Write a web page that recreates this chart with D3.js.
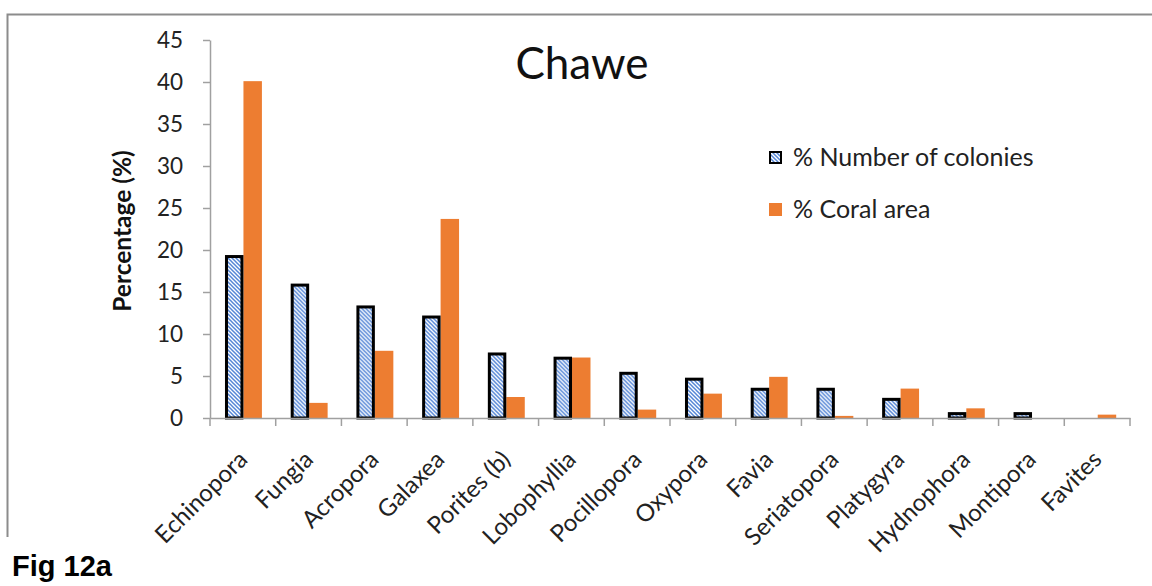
<!DOCTYPE html>
<html>
<head>
<meta charset="utf-8">
<script src="https://cdn.jsdelivr.net/npm/d3@7"></script>
<style>
  html, body { margin: 0; padding: 0; background: #fff; }
  svg { display: block; }
</style>
</head>
<body>
<svg id="chart" width="1152" height="586"></svg>
<script>
// Coral genera surveyed at Chawe
const genera = ["Echinopora", "Fungia", "Acropora", "Galaxea", "Porites (b)", "Lobophyllia",
  "Pocillopora", "Oxypora", "Favia", "Seriatopora", "Platygyra", "Hydnophora", "Montipora", "Favites"];

// % of colonies per genus
const colonies = [19.4, 16.0, 13.4, 12.2, 7.8, 7.3, 5.5, 4.8, 3.6, 3.6, 2.4, 0.7, 0.7, 0];

// % of coral area per genus
const coralArea = [40.1, 1.8, 8.0, 23.7, 2.5, 7.2, 1.0, 2.9, 4.9, 0.25, 3.5, 1.15, 0, 0.4];

const seriesNames = ["% Number of colonies", "% Coral area"];
const yTicks = [0, 5, 10, 15, 20, 25, 30, 35, 40, 45];

const svg = d3.select("#chart");
const FONT = "Lato, 'Open Sans', sans-serif";
const ORANGE = "#ED7D31";
const HATCH_BLUE = "#5586D6";

// diagonal stripe fill for the colony bars
const defs = svg.append("defs");
const pat = defs.append("pattern")
  .attr("id", "hatch")
  .attr("patternUnits", "userSpaceOnUse")
  .attr("width", 4).attr("height", 4);
pat.append("rect").attr("width", 4).attr("height", 4).attr("fill", "#fff");
pat.append("path")
  .attr("d", "M-1,-1 L5,5 M-1,3 L1,5 M3,-1 L5,1")
  .attr("stroke", HATCH_BLUE).attr("stroke-width", 1.5);

// outer frame (top and left edges)
svg.append("path")
  .attr("d", "M7.5,537 L7.5,14.5 L1152,14.5")
  .attr("fill", "none").attr("stroke", "#8c8c8c").attr("stroke-width", 2);

const plotLeft = 210, plotRight = 1130, plotTop = 40, plotBottom = 418;

const x = d3.scaleBand().domain(genera).range([plotLeft, plotRight]).padding(0);
const xs = d3.scaleBand().domain(seriesNames)
  .range([x.bandwidth() * 0.228, x.bandwidth() * 0.79]).padding(0);
const y = d3.scaleLinear().domain([0, 45]).range([plotBottom, plotTop]);

// bars
const rows = genera.map((g, i) => ({ genus: g, values: [colonies[i], coralArea[i]] }));
const groups = svg.append("g").selectAll("g").data(rows).join("g")
  .attr("transform", d => `translate(${x(d.genus)},0)`);

groups.append("rect")
  .attr("x", xs(seriesNames[1]))
  .attr("width", xs.bandwidth())
  .attr("y", d => y(d.values[1]))
  .attr("height", d => y(0) - y(d.values[1]))
  .attr("fill", ORANGE);

groups.filter(d => d.values[0] > 0).append("rect")
  .attr("x", xs(seriesNames[0]) + 1.5)
  .attr("width", xs.bandwidth() - 3)
  .attr("y", d => y(d.values[0]) + 1.5)
  .attr("height", d => y(0) - y(d.values[0]) - 1.5)
  .attr("fill", "url(#hatch)")
  .attr("stroke", "#000").attr("stroke-width", 3);

// y axis
const yAxis = svg.append("g")
  .attr("transform", `translate(${plotLeft},0)`)
  .call(d3.axisLeft(y).tickValues(yTicks).tickSize(7).tickPadding(20).tickSizeOuter(0));
yAxis.select(".domain").attr("stroke", "#a0a0a0").attr("stroke-width", 1.5);
yAxis.selectAll(".tick line").attr("stroke", "#a0a0a0").attr("stroke-width", 1.5);
yAxis.selectAll(".tick text")
  .attr("font-family", FONT).attr("font-size", 22.5).attr("fill", "#222");

// x axis
const xAxis = svg.append("g")
  .attr("transform", `translate(0,${plotBottom})`)
  .call(d3.axisBottom(x).tickSize(0).tickSizeOuter(0).tickFormat(""));
xAxis.select(".domain").attr("stroke", "#a0a0a0").attr("stroke-width", 1.5);
// category separators
const bounds = genera.map(g => x(g)).concat([plotRight]);
svg.append("g").selectAll("line").data(bounds).join("line")
  .attr("x1", d => d).attr("x2", d => d)
  .attr("y1", plotBottom).attr("y2", plotBottom + 8)
  .attr("stroke", "#a0a0a0").attr("stroke-width", 1.5);

// rotated category labels
svg.append("g").selectAll("text").data(genera).join("text")
  .attr("transform", d => `translate(${x(d) + x.bandwidth() / 2 + 6},${plotBottom + 43}) rotate(-45)`)
  .attr("text-anchor", "end")
  .attr("font-family", FONT).attr("font-size", 24).attr("fill", "#222")
  .text(d => d);

// axis title
svg.append("text")
  .attr("transform", `translate(131,231) rotate(-90)`)
  .attr("text-anchor", "middle")
  .attr("font-family", FONT).attr("font-weight", "bold").attr("font-size", 24.5).attr("fill", "#111")
  .text("Percentage (%)");

// chart title
svg.append("text")
  .attr("x", 582).attr("y", 79)
  .attr("text-anchor", "middle")
  .attr("font-family", FONT).attr("font-size", 44).attr("fill", "#111")
  .text("Chawe");

// legend
const legend = svg.append("g");
const legendRows = [
  { name: seriesNames[0], fill: "url(#hatch)", stroke: "#000", y: 151 },
  { name: seriesNames[1], fill: ORANGE, stroke: "none", y: 203 }
];
legend.selectAll("rect").data(legendRows).join("rect")
  .attr("x", d => d.stroke === "none" ? 769 : 770)
  .attr("y", d => d.stroke === "none" ? d.y : d.y + 1)
  .attr("width", d => d.stroke === "none" ? 13 : 11)
  .attr("height", d => d.stroke === "none" ? 13 : 11)
  .attr("fill", d => d.fill)
  .attr("stroke", d => d.stroke).attr("stroke-width", 2);
legend.selectAll("text").data(legendRows).join("text")
  .attr("x", 793).attr("y", d => d.y + 15)
  .attr("font-family", FONT).attr("font-size", 25).attr("fill", "#222")
  .text(d => d.name);

// figure caption
svg.append("text")
  .attr("x", 12).attr("y", 576)
  .attr("font-family", "'Liberation Sans', Arial, sans-serif")
  .attr("font-weight", "bold").attr("font-size", 29).attr("fill", "#000")
  .text("Fig 12a");
</script>
</body>
</html>
